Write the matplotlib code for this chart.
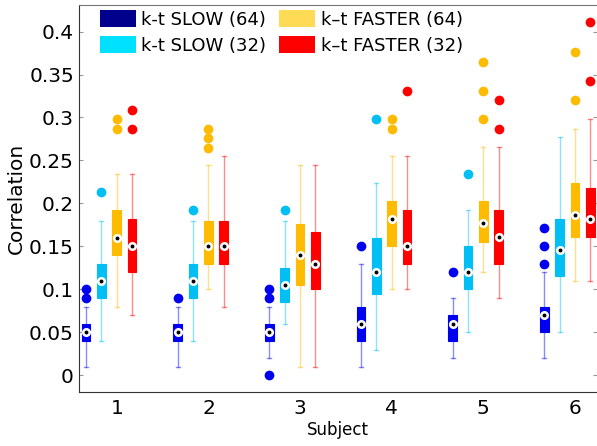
import matplotlib.pyplot as plt
from matplotlib.patches import Patch

subjects = [1, 2, 3, 4, 5, 6]
methods = ['k-t SLOW (64)', 'k-t SLOW (32)', 'k–t FASTER (64)', 'k–t FASTER (32)']
box_colors = ['#0000f0', '#00bff5', '#ffbb00', '#ff0000']
legend_colors = ['#00008c', '#00e1ff', '#ffdb55', '#ff0000']
offsets = [-0.335, -0.168, 0.0, 0.167]

# per method, per subject: (whislo, q1, med, q3, whishi)
stats_slow64 = [(0.01, 0.04, 0.05, 0.06, 0.08), (0.01, 0.04, 0.05, 0.06, 0.08),
                (0.02, 0.04, 0.05, 0.06, 0.08), (0.01, 0.04, 0.06, 0.08, 0.13),
                (0.02, 0.04, 0.06, 0.07, 0.09), (0.02, 0.05, 0.07, 0.08, 0.12)]
stats_slow32 = [(0.04, 0.09, 0.11, 0.13, 0.18), (0.04, 0.09, 0.11, 0.13, 0.18),
                (0.06, 0.085, 0.105, 0.125, 0.18), (0.03, 0.095, 0.12, 0.16, 0.224),
                (0.05, 0.10, 0.12, 0.15, 0.192), (0.05, 0.115, 0.146, 0.182, 0.277)]
stats_fast64 = [(0.08, 0.14, 0.16, 0.192, 0.234), (0.10, 0.13, 0.15, 0.18, 0.245),
                (0.01, 0.105, 0.14, 0.176, 0.245), (0.10, 0.15, 0.182, 0.203, 0.255),
                (0.12, 0.155, 0.177, 0.203, 0.266), (0.11, 0.161, 0.187, 0.224, 0.287)]
stats_fast32 = [(0.07, 0.12, 0.15, 0.182, 0.234), (0.08, 0.13, 0.15, 0.18, 0.255),
                (0.01, 0.10, 0.13, 0.167, 0.245), (0.10, 0.13, 0.15, 0.192, 0.255),
                (0.09, 0.13, 0.161, 0.192, 0.266), (0.11, 0.161, 0.182, 0.218, 0.298)]

outliers_slow64 = [[0.10, 0.09], [0.09], [0.10, 0.09, 0.0], [0.15], [0.12], [0.171, 0.15, 0.13]]
outliers_slow32 = [[0.213], [0.192], [0.192], [0.298], [0.234], []]
outliers_fast64 = [[0.298, 0.287], [0.287, 0.276, 0.265], [], [0.298, 0.287],
                   [0.364, 0.331, 0.298], [0.376, 0.32]]
outliers_fast32 = [[0.309, 0.287], [], [], [0.331], [0.32, 0.287], [0.411, 0.342]]

all_stats = [stats_slow64, stats_slow32, stats_fast64, stats_fast32]
all_outliers = [outliers_slow64, outliers_slow32, outliers_fast64, outliers_fast32]

ytick_vals = [0, 0.05, 0.1, 0.15, 0.2, 0.25, 0.3, 0.35, 0.4]
ytick_labels = ['0', '0.05', '0.1', '0.15', '0.2', '0.25', '0.3', '0.35', '0.4']

fig = plt.figure(figsize=(5.97, 4.46), dpi=100)
ax = fig.add_axes([0.132, 0.12, 0.868, 0.869])

for stats, fl, col, off in zip(all_stats, all_outliers, box_colors, offsets):
    bstats = []
    for (lo, q1, med, q3, hi), f in zip(stats, fl):
        bstats.append({'whislo': lo, 'q1': q1, 'med': med, 'q3': q3,
                       'whishi': hi, 'fliers': f})
    pos = [s + off for s in subjects]
    ax.bxp(bstats, positions=pos, widths=0.095, capwidths=0.045,
           patch_artist=True, manage_ticks=False,
           boxprops=dict(facecolor=col, edgecolor=col, linewidth=0.8),
           whiskerprops=dict(color=col, alpha=0.45, linewidth=1.0),
           capprops=dict(color=col, alpha=0.45, linewidth=1.0),
           medianprops=dict(visible=False),
           flierprops=dict(marker='o', markerfacecolor=col,
                           markeredgecolor='none', markersize=7))
    # median: white circle with a black centre dot
    meds = [s[2] for s in stats]
    ax.plot(pos, meds, 'o', ls='none', markersize=5.5, markerfacecolor='white',
            markeredgecolor='white', zorder=5)
    ax.plot(pos, meds, 'o', ls='none', markersize=1.8, color='black', zorder=6)

ax.set_xlim(0.585, 6.24)
ax.set_ylim(-0.02, 0.431)
ax.set_xticks(subjects)
ax.set_xticklabels([str(s) for s in subjects])
ax.set_yticks(ytick_vals)
ax.set_yticklabels(ytick_labels)
ax.tick_params(axis='y', direction='in', length=3, color='#999999', right=True,
               labelsize=14.5)
ax.tick_params(axis='x', length=0, labelsize=14.5, pad=5)
for side in ['left', 'bottom']:
    ax.spines[side].set_color('#333333')
ax.spines['top'].set_color('#777777')
ax.spines['right'].set_visible(False)

ax.set_ylabel('Correlation', fontsize=14.5, labelpad=2)
ax.set_xlabel('Subject', fontsize=12, labelpad=2)

handles = [Patch(facecolor=c, edgecolor='none') for c in legend_colors]
ax.legend(handles, methods, ncol=2, loc='upper left', frameon=False,
          fontsize=13, handlelength=2.0, handleheight=1.1, handletextpad=0.3,
          columnspacing=0.7, labelspacing=0.4, borderaxespad=0, borderpad=0,
          bbox_to_anchor=(21 / 518, 1 - 5 / 388))

fig.savefig('out.png', dpi=100)
